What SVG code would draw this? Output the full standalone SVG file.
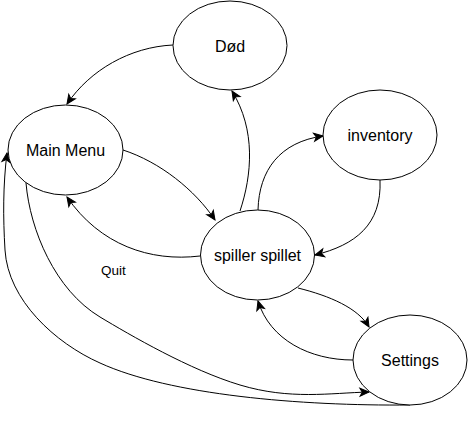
<svg xmlns="http://www.w3.org/2000/svg" width="473" height="427" viewBox="0 0 473 427">
<style>
.node ellipse{fill:#ffffff;stroke:#000000;stroke-width:1}
.node text{font-family:"Liberation Sans",Arial,sans-serif;font-size:16px;fill:#000000;text-anchor:middle}
.edge{fill:none;stroke:#000000;stroke-width:1;marker-end:url(#arr)}
.lbl{font-family:"Liberation Sans",Arial,sans-serif;font-size:13.5px;fill:#000000;text-anchor:middle}
</style>
<defs>
<marker id="arr" markerUnits="userSpaceOnUse" markerWidth="12" markerHeight="10" refX="9" refY="4" orient="auto" overflow="visible">
<path d="M0,0 L9,4 L0,8 L2.3,4 Z" fill="#000000" stroke="#000000" stroke-width="1" stroke-linejoin="miter"/>
</marker>
</defs>
<rect width="473" height="427" fill="#ffffff"/>
<g id="connectors">
<path class="edge" d="M173,45 C130,47 90,70 67,104"/>
<path class="edge" d="M123,150 C160,162 195,190 215,220"/>
<path class="edge" d="M240,211 C252,175 256,130 232,91"/>
<path class="edge" d="M258,210 C259,170 280,142 323,136"/>
<path class="edge" d="M380,180 C382,225 355,245 315,255"/>
<path class="edge" d="M200,256 C150,262 100,245 67,197"/>
<path class="edge" d="M298,288 C330,296 358,308 369,327"/>
<path class="edge" d="M353,360 C310,360 270,340 258,301"/>
<path class="edge" d="M26,183 C30,230 55,290 100,317 C130,335 190,370 240,385 C290,400 330,393 369,392"/>
<path class="edge" d="M410,405 C300,406 170,395 100,363 C55,343 8,300 5,250 C3,217 3,185 7,153"/>
<text class="lbl" x="113.5" y="275">Quit</text>
</g>
<g id="node-dod" class="node">
<ellipse cx="230" cy="45.5" rx="57" ry="44.5"/>
<text x="230" y="51.5">Død</text>
</g>
<g id="node-mainmenu" class="node">
<ellipse cx="65.5" cy="150" rx="57.5" ry="45"/>
<text x="65.5" y="156">Main Menu</text>
</g>
<g id="node-inventory" class="node">
<ellipse cx="380" cy="135" rx="57" ry="45"/>
<text x="380" y="141">inventory</text>
</g>
<g id="node-spiller" class="node">
<ellipse cx="257.5" cy="255" rx="57" ry="45"/>
<text x="257.5" y="261">spiller spillet</text>
</g>
<g id="node-settings" class="node">
<ellipse cx="410" cy="360" rx="57" ry="45"/>
<text x="410" y="366">Settings</text>
</g>
</svg>
